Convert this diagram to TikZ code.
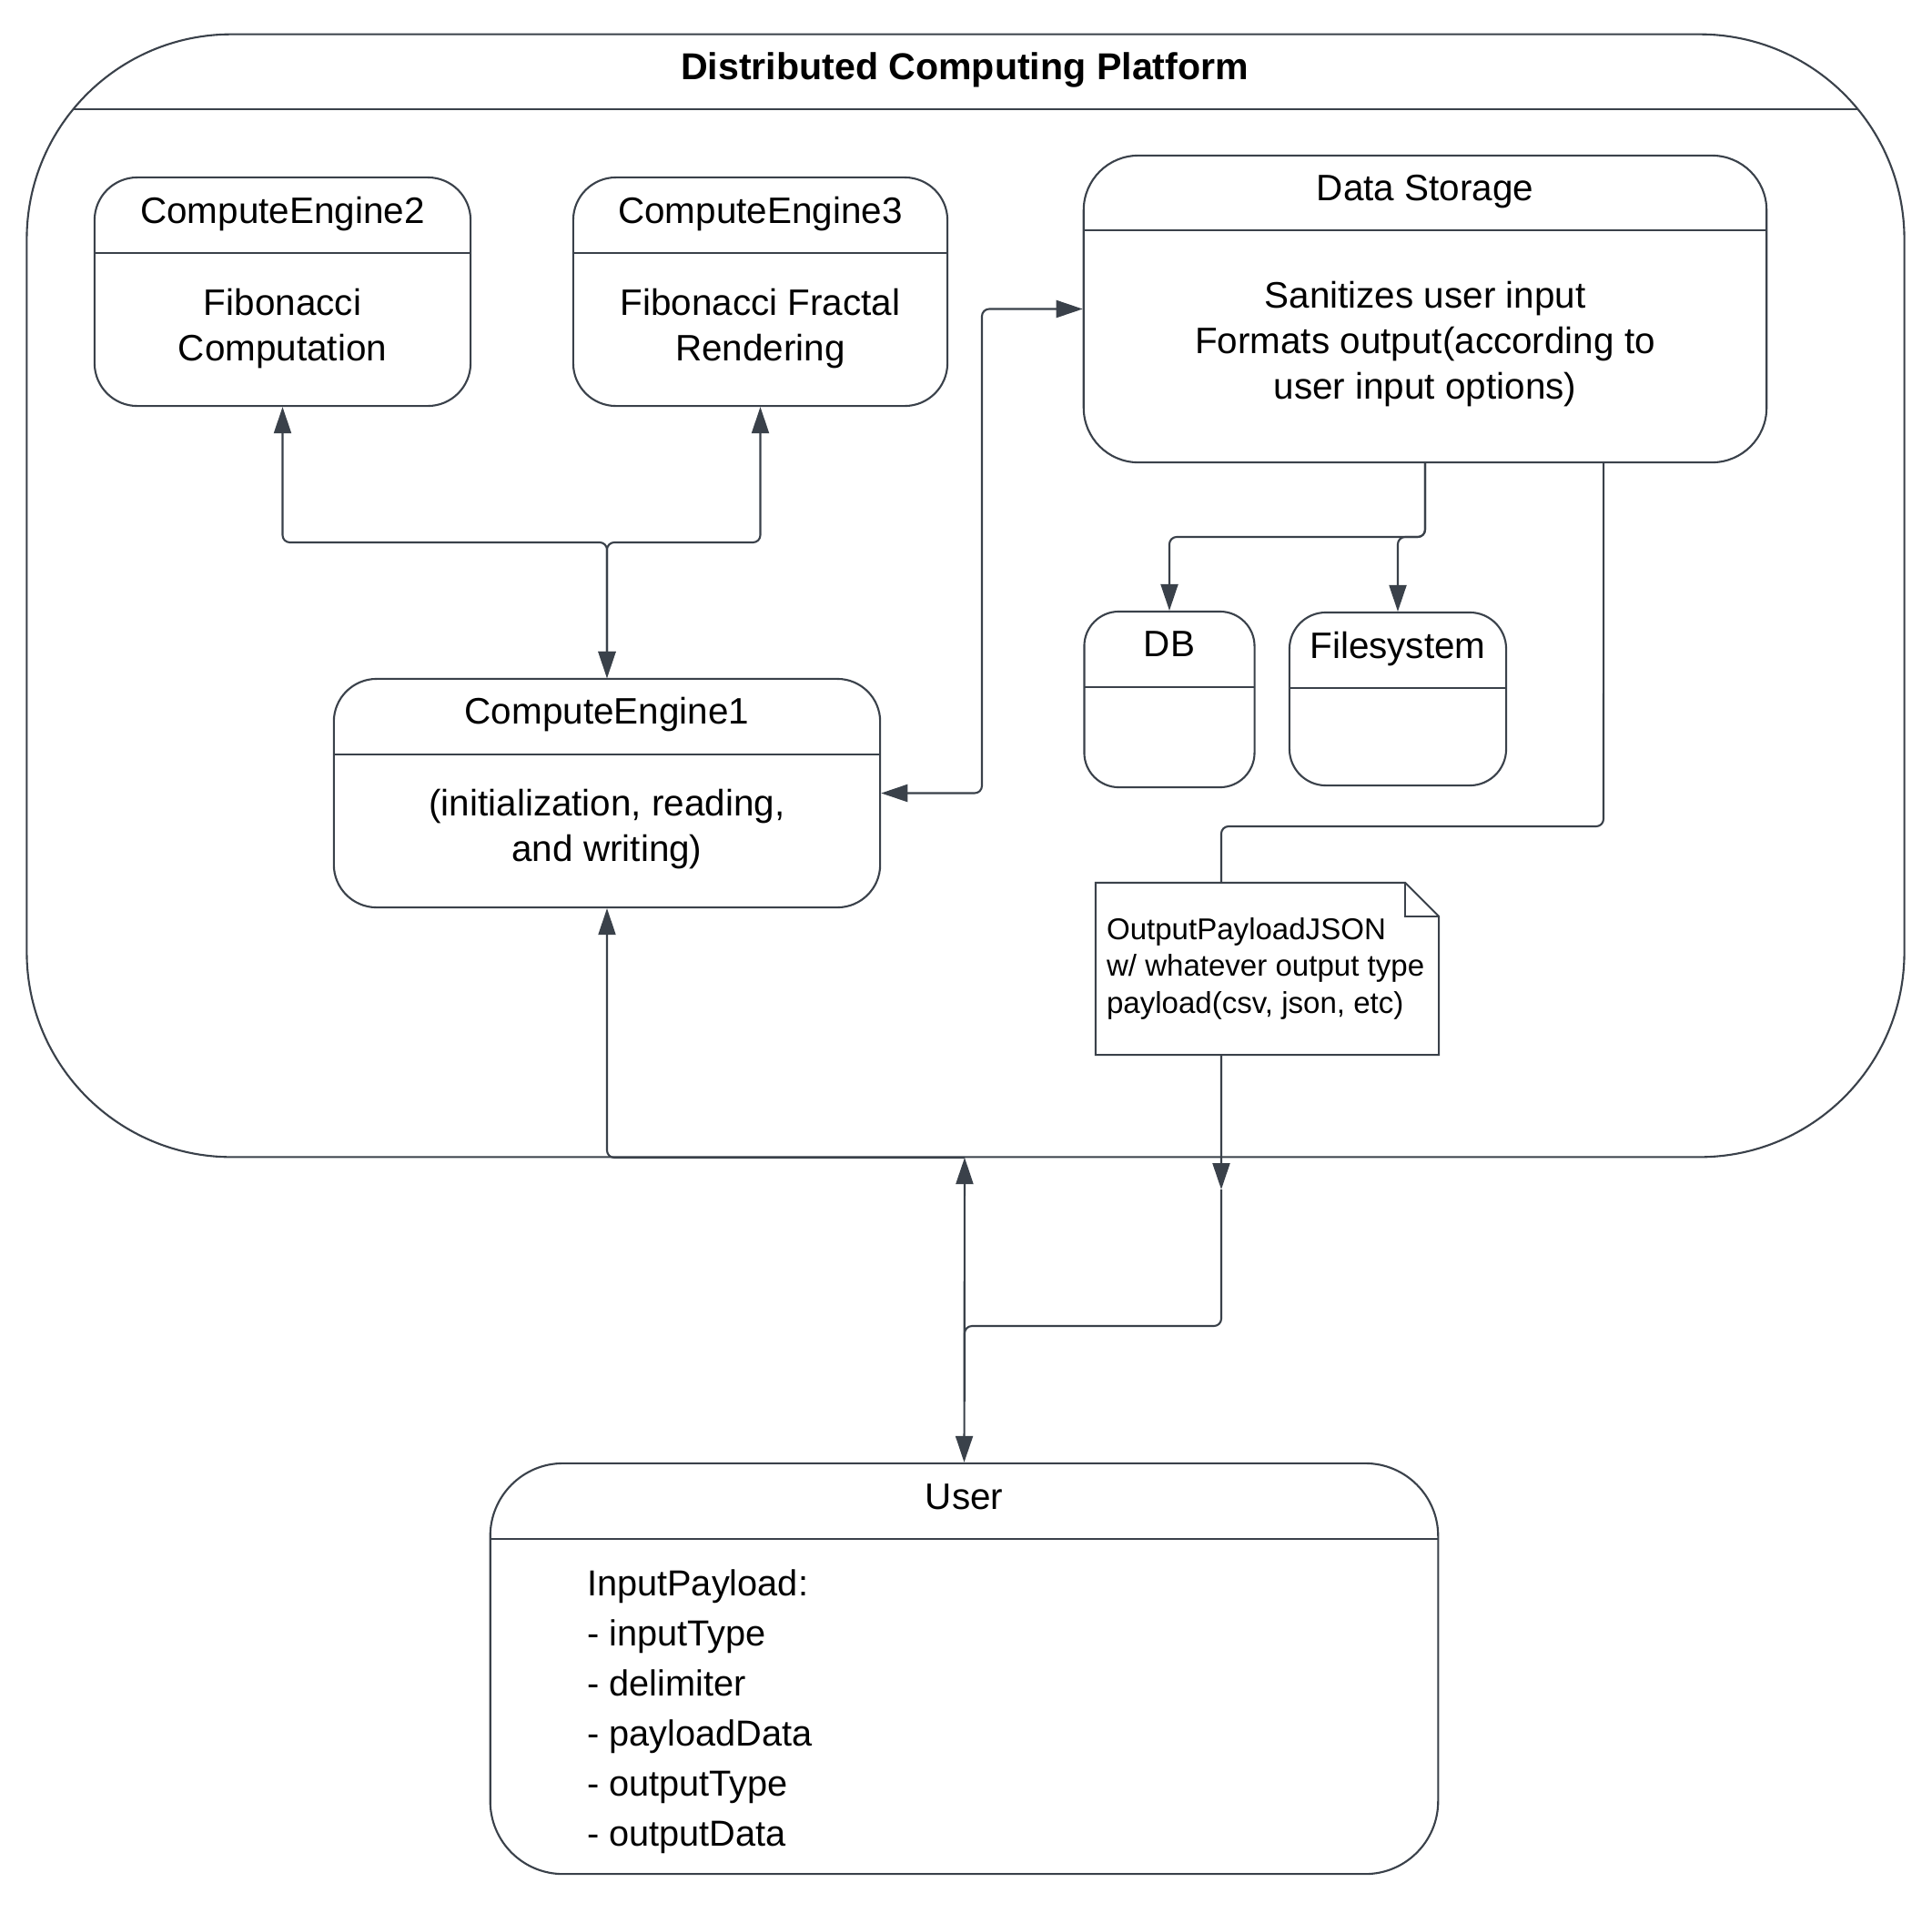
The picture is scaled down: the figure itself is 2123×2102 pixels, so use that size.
\documentclass[tikz,border=0pt]{standalone}
\usepackage{fontspec}
\setmainfont{Liberation Sans}
\usetikzlibrary{arrows.meta}

\definecolor{edge}{HTML}{3A414A}

\begin{document}
\begin{tikzpicture}[x=0.01cm,y=-0.01cm,
  line width=0.6pt,
  >={Triangle[length=0.29cm,width=0.19cm]},
  card/.style={draw=edge, fill=white, inner sep=0pt, rounded corners=#1},
  hdr/.style={path picture={\draw[edge,line width=0.6pt]
      ([yshift=-#1]path picture bounding box.north west) --
      ([yshift=-#1]path picture bounding box.north east);}},
  ttl/.style={inner sep=0pt, anchor=base, font=\fontsize{11.5}{14}\selectfont},
  % multi-line texts are placed by the baseline of their last line
  body/.style={inner sep=0pt, anchor=base, align=center, font=\fontsize{11.5}{14.2}\selectfont},
  conn/.style={draw=edge, rounded corners=0.08cm}
]
\useasboundingbox (0,0) rectangle (2123,2102);

% platform container
\node[card=2.25cm, hdr=0.82cm, minimum width=20.62cm, minimum height=12.33cm] (dcp) at (1061,654.5) {};
\node[inner sep=0pt, anchor=base, font=\fontsize{11.7}{14}\selectfont\bfseries] (dcpt) at (1060,87) {Distributed Computing Platform};

% compute engines
\node[card=0.47cm, hdr=0.83cm, minimum width=4.13cm, minimum height=2.51cm] (ce2) at (310.5,320.5) {};
\node[ttl] (ce2t) at (310.5,245) {ComputeEngine2};
\node[body] (ce2b) at (310.5,396) {Fibonacci\\Computation};

\node[card=0.47cm, hdr=0.83cm, minimum width=4.11cm, minimum height=2.51cm] (ce3) at (835.5,320.5) {};
\node[ttl] (ce3t) at (835.5,245) {ComputeEngine3};
\node[body] (ce3b) at (835.5,396) {Fibonacci Fractal\\Rendering};

\node[card=0.47cm, hdr=0.83cm, minimum width=6.00cm, minimum height=2.51cm] (ce1) at (667,871.5) {};
\node[ttl] (ce1t) at (667,795) {ComputeEngine1};
\node[body] (ce1b) at (667,946) {(initialization, reading,\\and writing)};

% storage
\node[card=0.6cm, hdr=0.82cm, minimum width=7.50cm, minimum height=3.37cm] (ds) at (1566,339.5) {};
\node[ttl] (dst) at (1566,220) {Data Storage};
\node[body] (dsb) at (1566,438) {Sanitizes user input\\Formats output(according to\\user input options)};

\node[card=0.38cm, hdr=0.83cm, minimum width=1.87cm, minimum height=1.93cm] (db) at (1285,768.5) {};
\node[ttl] (dbt) at (1285,721) {DB};

\node[card=0.4cm, hdr=0.83cm, minimum width=2.38cm, minimum height=1.90cm] (fs) at (1536,768) {};
\node[ttl] (fst) at (1536,723) {Filesystem};

% output note
\node[inner sep=0pt, minimum width=3.75cm, minimum height=1.87cm] (note) at (1392.5,1064.5) {};
\draw[edge, fill=white] (note.north west) -- ([xshift=-0.37cm]note.north east)
  -- ([yshift=-0.37cm]note.north east) -- (note.south east) -- (note.south west) -- cycle;
\draw[edge] ([xshift=-0.37cm]note.north east) |- ([yshift=-0.37cm]note.north east);
\node[inner sep=0pt, anchor=base west, align=left, font=\fontsize{9.4}{11.4}\selectfont] (notet) at (1215,1113)
  {OutputPayloadJSON\\w/ whatever output type\\payload(csv, json, etc)};

% user
\node[card=0.8cm, hdr=0.83cm, minimum width=10.41cm, minimum height=4.51cm] (user) at (1059.5,1833.5) {};
\node[ttl] (usert) at (1059.5,1658) {User};
\node[inner sep=0pt, anchor=base west, align=left, font=\fontsize{11.3}{15.6}\selectfont] (userb) at (644,2028)
  {InputPayload:\\- inputType\\- delimiter\\- payloadData\\- outputType\\- outputData};

% connectors
\coordinate (gate) at (1060,1272);
\coordinate (njoin) at (1342,1307);

\draw[conn, <->] (ce1.north) -- (667,596) -- (310.5,596) -- (ce2.south);
\draw[conn, <->] (ce1.north) -- (667,596) -- (835.5,596) -- (ce3.south);
\draw[conn, <->] (ce1.east) -- (1079,871.5) -- (1079,339.5) -- (ds.west);
\draw[conn, ->] (ds.south) -- (1566,590) -- (1285,590) -- (db.north);
\draw[conn, ->] (ds.south) -- (1566,590) -- (1536,590) -- (fs.north);
\draw[conn] ([xshift=1.96cm]ds.south) -- (1762,908) -- (1342,908) -- ([xshift=-0.505cm]note.north);
\draw[conn, ->] ([xshift=-0.505cm]note.south) -- (njoin);
\draw[conn] (njoin) -- (1342,1457) -- (1060,1457) -- (1060,1540);
\draw[conn, <->] (gate) -- (user.north);
\draw[conn, ->] (gate) -- (667,1272) -- (ce1.south);
\end{tikzpicture}
\end{document}
